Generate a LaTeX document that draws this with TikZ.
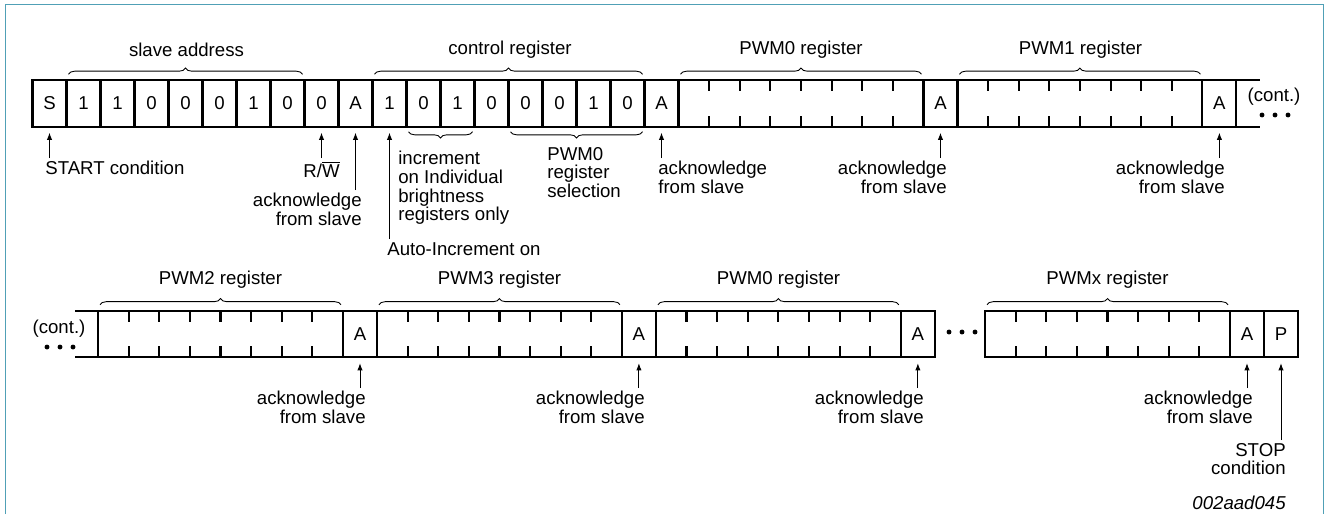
\documentclass[tikz,border=0pt]{standalone}
\usepackage{fontspec}
\setmainfont{Liberation Sans}
\usetikzlibrary{positioning,calc,decorations.pathreplacing,arrows.meta}
\definecolor{framec}{RGB}{80,160,182}

\begin{document}
\begin{tikzpicture}[x=0.02cm,y=-0.02cm,
  every node/.style={font=\fontsize{10.6}{10.6}\selectfont,inner sep=0pt},
  bit/.style={draw,line width=1.2pt,outer sep=0pt,minimum width=0.68cm,minimum height=0.93cm},
  reg/.style={bit,minimum width=4.9cm},
  bus/.style={line width=1.2pt},
  brup/.style={decorate,decoration={brace,amplitude=3.5pt},line width=0.5pt},
  brdn/.style={decorate,decoration={brace,amplitude=3.5pt,mirror},line width=0.5pt},
  ack/.style={-{Latex[length=4pt,width=3pt]},line width=0.5pt},
  dot/.style={circle,fill,minimum size=2.8pt}]
  \useasboundingbox (0,0) rectangle (1327,514);
  \draw[framec,line width=1.1pt] (5.5,514) -- (5.5,4.5) -- (1323.5,4.5) -- (1323.5,514);

  % first row
  \foreach \v [count=\i from 0] in {S,1,1,0,0,0,1,0,0,A,1,0,1,0,0,0,1,0,A}
    \node[bit] (t\i) at ({49.5+34*\i},103.5) {\v};
  \node[reg,right=0pt of t18] (p0) {};
  \node[bit,right=0pt of p0] (ta1) {A};
  \node[reg,right=0pt of ta1] (p1) {};
  \node[bit,right=0pt of p1] (ta2) {A};
  \draw[bus] (ta2.north east) -- ++(24,0) (ta2.south east) -- ++(24,0);
  \node (ct1) at (1274,97) {(cont.)};
  \node[dot] (d1) at (1262,115) {};
  \node[dot] (d2) at (1275,115) {};
  \node[dot] (d3) at (1288,115) {};

  % second row
  \node[reg] (q2) at (220.5,334) {};
  \node[bit,right=0pt of q2] (ba1) {A};
  \node[reg,right=0pt of ba1] (q3) {};
  \node[bit,right=0pt of q3] (ba2) {A};
  \node[reg,right=0pt of ba2] (q0) {};
  \node[bit,right=0pt of q0] (ba3) {A};
  \node[reg] (qx) at (1107.5,334) {};
  \node[bit,right=0pt of qx] (ba4) {A};
  \node[bit,right=0pt of ba4] (bp) {P};
  \draw[bus] (q2.north west) -- ++(-23,0) (q2.south west) -- ++(-23,0);
  \node (ct2) at (59,329) {(cont.)};
  \node[dot] (d4) at (47,347) {};
  \node[dot] (d5) at (60,347) {};
  \node[dot] (d6) at (73,347) {};
  \node[dot] (d7) at (949,332) {};
  \node[dot] (d8) at (962,332) {};
  \node[dot] (d9) at (975,332) {};

  \foreach \b in {p0,p1,q2,q3,q0,qx}
    \foreach \k in {1,...,7} {
      \draw[bus] ($(\b.north west)!\k/8!(\b.north east)$) -- ++(0,11);
      \draw[bus] ($(\b.south west)!\k/8!(\b.south east)$) -- ++(0,-11);
    }

  % braces
  \draw[brup] ($(t1.north west)+(2,-6)$) -- ($(t7.north east)+(-2,-6)$);
  \draw[brup] ($(t10.north west)+(2,-6)$) -- ($(t17.north east)+(-2,-6)$);
  \foreach \b in {p0,p1,q2,q3,q0,qx}
    \draw[brup] ($(\b.north west)+(2,-6)$) -- ($(\b.north east)+(-2,-6)$);
  \draw[brdn] ($(t11.south west)+(2,5)$) -- ($(t12.south east)+(-2,5)$);
  \draw[brdn] ($(t14.south west)+(2,5)$) -- ($(t17.south east)+(-2,5)$);
  \node (nsa) at (186.5,50) {slave address};
  \node (nctl) at (510,50) {control register};
  \node (np0) at (801,50) {PWM0 register};
  \node (np1) at (1080.5,50) {PWM1 register};
  \node (nq2) at (220.5,280) {PWM2 register};
  \node (nq3) at (499.5,280) {PWM3 register};
  \node (nq0) at (778.5,280) {PWM0 register};
  \node (nqx) at (1107.5,280) {PWMx register};

  % labels
  \node[anchor=north west] (lstart) at (45,161) {START condition};
  \node[anchor=north east] (lrw) at (340,161) {R/$\overline{\hbox{W}}$};
  \node[anchor=north east,align=right] (k1) at (362,193) {acknowledge\\from slave};
  \node[anchor=north west,align=left] (linc) at (398,151) {increment\\on Individual\\brightness\\registers only};
  \node[anchor=north west] (lauto) at (387,242) {Auto-Increment on};
  \node[anchor=north west,align=left] (lsel) at (547,147) {PWM0\\register\\selection};
  \node[anchor=north west,align=left] (k2) at (658,161) {acknowledge\\from slave};
  \node[anchor=north east,align=right] (k3) at (947,161) {acknowledge\\from slave};
  \node[anchor=north east,align=right] (k4) at (1225,161) {acknowledge\\from slave};
  \node[anchor=north east,align=right] (k5) at (366,391) {acknowledge\\from slave};
  \node[anchor=north east,align=right] (k6) at (645,391) {acknowledge\\from slave};
  \node[anchor=north east,align=right] (k7) at (924,391) {acknowledge\\from slave};
  \node[anchor=north east,align=right] (k8) at (1253,391) {acknowledge\\from slave};
  \node[anchor=north east,align=right] (lstop) at (1286,443) {STOP\\condition};
  \node[anchor=north east] (lid) at (1286,496) {\itshape 002aad045};

  \foreach \c/\l in {t0/lstart,t8/lrw,t9/k1,t10/lauto,t18/k2,ta1/k3,ta2/k4,ba1/k5,ba2/k6,ba3/k7,ba4/k8,bp/lstop}
    \draw[ack] ($(\c.south |- \l.north)+(0,-3)$) -- ($(\c.south)+(0,6)$);
\end{tikzpicture}
\end{document}
